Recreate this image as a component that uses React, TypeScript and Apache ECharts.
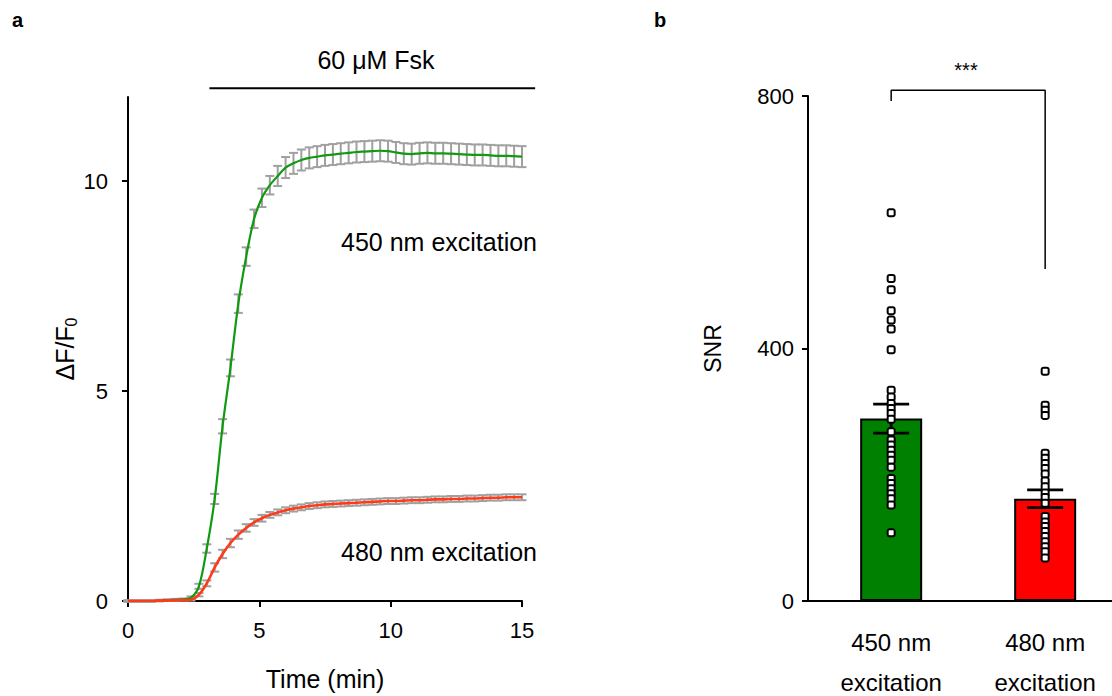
import React, { useEffect, useRef } from "react";
import * as echarts from "echarts";

// ---------- Panel a data ----------
const timeMin = [
  0, 0.3, 0.6, 0.9, 1.2, 1.5, 1.8, 2.1, 2.4, 2.7,
  3, 3.3, 3.6, 3.9, 4.2, 4.5, 4.8, 5.1, 5.4, 5.7, 6,
  6.3, 6.6, 6.9, 7.2, 7.5, 7.8, 8.1, 8.4, 8.7, 9,
  9.3, 9.6, 9.9, 10.2, 10.5, 10.8, 11.1, 11.4, 11.7, 12,
  12.3, 12.6, 12.9, 13.2, 13.5, 13.8, 14.1, 14.4, 14.7, 15,
];
const mean450 = [
  0, 0, 0, 0, 0.01, 0.02, 0.03, 0.04, 0.08, 0.35,
  1.25, 2.43, 4.16, 5.55, 7.08, 8.2, 9.1, 9.6, 9.9, 10.12, 10.32,
  10.42, 10.5, 10.55, 10.58, 10.61, 10.63, 10.65, 10.67, 10.69, 10.7,
  10.71, 10.72, 10.71, 10.68, 10.65, 10.64, 10.66, 10.67, 10.66, 10.66,
  10.65, 10.64, 10.63, 10.62, 10.62, 10.61, 10.6, 10.6, 10.59, 10.58,
];
const sem450 = [
  0.02, 0.02, 0.02, 0.02, 0.02, 0.02, 0.02, 0.02, 0.03, 0.06,
  0.1, 0.12, 0.17, 0.2, 0.22, 0.22, 0.22, 0.22, 0.22, 0.24, 0.25,
  0.25, 0.25, 0.25, 0.25, 0.25, 0.25, 0.25, 0.25, 0.25, 0.25,
  0.25, 0.25, 0.25, 0.25, 0.25, 0.25, 0.25, 0.25, 0.25, 0.25,
  0.25, 0.25, 0.25, 0.25, 0.25, 0.25, 0.25, 0.25, 0.25, 0.25,
];
const mean480 = [
  0, 0, 0, 0, 0.01, 0.01, 0.02, 0.02, 0.03, 0.15,
  0.42, 0.8, 1.12, 1.38, 1.58, 1.74, 1.87, 1.97, 2.05, 2.11, 2.16,
  2.2, 2.23, 2.26, 2.28, 2.3, 2.31, 2.32, 2.33, 2.34, 2.35,
  2.36, 2.37, 2.38, 2.38, 2.39, 2.4, 2.4, 2.41, 2.42, 2.42,
  2.43, 2.43, 2.44, 2.44, 2.45, 2.46, 2.46, 2.47, 2.47, 2.47,
];
const sem480 = [
  0.01, 0.01, 0.01, 0.01, 0.01, 0.01, 0.01, 0.01, 0.02, 0.04,
  0.07, 0.1, 0.1, 0.1, 0.1, 0.09, 0.08, 0.08, 0.07, 0.07, 0.07,
  0.07, 0.07, 0.07, 0.07, 0.07, 0.07, 0.07, 0.07, 0.07, 0.07,
  0.07, 0.07, 0.07, 0.07, 0.07, 0.07, 0.07, 0.07, 0.07, 0.07,
  0.07, 0.07, 0.07, 0.07, 0.07, 0.07, 0.07, 0.07, 0.07, 0.07,
];
const xTicksA = [0, 5, 10, 15];
const yTicksA = [0, 5, 10];
const fskStart = 3.1;
const fskEnd = 15.5;
const fskLevel = 12.21;

// ---------- Panel b data ----------
const categories = ["450 nm\nexcitation", "480 nm\nexcitation"];
const catPos = [1, 2];
const snrMean = [289, 162];
const snrSem = [23, 14];
const snr450 = [615, 511, 493, 460, 445, 431, 398, 334, 323, 313, 305, 297, 288, 268, 255, 247, 239, 231, 223, 212, 194, 186, 178, 170, 162, 152, 108];
const snr480 = [364, 310, 302, 294, 234, 226, 218, 210, 201, 190, 181, 171, 164, 155, 134, 125, 118, 110, 102, 94, 86, 78, 68];
const yTicksB = [0, 400, 800];
const bracketLeftBottom = 792;
const bracketTop = 809;
const bracketRightBottom = 526;

const FONT = "'Liberation Sans', Arial, Helvetica, sans-serif";
const GREEN_LINE = "#0f9a0f";
const RED_LINE = "#ff3b17";
const GREEN_BAR = "#008000";
const RED_BAR = "#ff0000";
const ERR_GRAY = "#a0a0a0";

export default function App() {
  const ref = useRef<HTMLDivElement>(null);

  useEffect(() => {
    if (!ref.current) return;
    const chart = echarts.init(ref.current, undefined, { renderer: "svg" });

    const errRender = (color: string, hw: number, lw: number) => (params: any, api: any) => {
      const x = api.value(0);
      const lo = api.coord([x, api.value(1)]);
      const hi = api.coord([x, api.value(2)]);
      const style = { stroke: color, lineWidth: lw, fill: "none" };
      return {
        type: "group",
        children: [
          { type: "line", shape: { x1: lo[0], y1: lo[1], x2: hi[0], y2: hi[1] }, style },
          { type: "line", shape: { x1: lo[0] - hw, y1: lo[1], x2: lo[0] + hw, y2: lo[1] }, style },
          { type: "line", shape: { x1: hi[0] - hw, y1: hi[1], x2: hi[0] + hw, y2: hi[1] }, style },
        ],
      };
    };

    const axisLineStyle = { color: "#000", width: 2 };
    const tickLabel = { color: "#000", fontSize: 22, fontFamily: FONT };

    const option: any = {
      animation: false,
      textStyle: { fontFamily: FONT },
      grid: [
        { left: 128, right: 590, top: 97, bottom: 95, outerBoundsMode: "none", containLabel: false },
        { left: 808, right: 0, top: 96, bottom: 95, outerBoundsMode: "none", containLabel: false },
      ],
      xAxis: [
        {
          type: "value",
          gridIndex: 0,
          min: 0,
          max: 15,
          interval: 5,
          splitLine: { show: false },
          axisLine: { lineStyle: axisLineStyle },
          axisTick: { show: true, length: 6, lineStyle: { color: "#000", width: 2 }, customValues: xTicksA },
          axisLabel: { ...tickLabel, margin: 18, customValues: xTicksA },
          name: "Time (min)",
          nameLocation: "middle",
          nameGap: 65,
          nameTextStyle: { color: "#000", fontSize: 25, fontFamily: FONT },
        },
        {
          type: "value",
          gridIndex: 1,
          min: 0.46,
          max: 2.434,
          splitLine: { show: false },
          axisLine: { lineStyle: axisLineStyle },
          axisTick: { show: false },
          axisLabel: {
            ...tickLabel,
            fontSize: 24,
            lineHeight: 40,
            margin: 21,
            customValues: catPos,
            formatter: (v: number) => {
              const i = catPos.indexOf(Math.round(v));
              return i >= 0 ? categories[i] : "";
            },
          },
        },
      ],
      yAxis: [
        {
          type: "value",
          gridIndex: 0,
          min: 0,
          max: 12,
          splitLine: { show: false },
          axisLine: { lineStyle: axisLineStyle },
          axisTick: { show: true, length: 6, lineStyle: { color: "#000", width: 2 }, customValues: yTicksA },
          axisLabel: { ...tickLabel, margin: 20, customValues: yTicksA },
          name: "{n|ΔF/F}{s|0}",
          nameLocation: "middle",
          nameGap: 32,
          nameTextStyle: {
            color: "#000",
            fontFamily: FONT,
            rich: {
              n: { fontSize: 25, lineHeight: 30, color: "#000", fontFamily: FONT },
              s: { fontSize: 16, lineHeight: 12, verticalAlign: "bottom", color: "#000", fontFamily: FONT },
            },
          },
        },
        {
          type: "value",
          gridIndex: 1,
          min: 0,
          max: 800,
          splitLine: { show: false },
          axisLine: { lineStyle: axisLineStyle },
          axisTick: { show: true, length: 6, lineStyle: { color: "#000", width: 2 }, customValues: yTicksB },
          axisLabel: { ...tickLabel, margin: 14, customValues: yTicksB },
          name: "SNR",
          nameLocation: "middle",
          nameGap: 84,
          nameTextStyle: { color: "#000", fontSize: 23, fontFamily: FONT },
        },
      ],
      series: [
        // panel a error bars
        {
          type: "custom",
          xAxisIndex: 0,
          yAxisIndex: 0,
          renderItem: errRender(ERR_GRAY, 4.5, 2),
          data: timeMin.map((t, i) => [t, mean450[i] - sem450[i], mean450[i] + sem450[i]]),
          encode: { x: 0, y: [1, 2] },
          z: 1,
          silent: true,
        },
        {
          type: "custom",
          xAxisIndex: 0,
          yAxisIndex: 0,
          renderItem: errRender(ERR_GRAY, 4.5, 2),
          data: timeMin.map((t, i) => [t, mean480[i] - sem480[i], mean480[i] + sem480[i]]),
          encode: { x: 0, y: [1, 2] },
          z: 1,
          silent: true,
        },
        {
          type: "line",
          xAxisIndex: 0,
          yAxisIndex: 0,
          data: timeMin.map((t, i) => [t, mean450[i]]),
          smooth: 0.3,
          showSymbol: false,
          symbol: "none",
          lineStyle: { color: GREEN_LINE, width: 2.2 },
          z: 3,
        },
        {
          type: "line",
          xAxisIndex: 0,
          yAxisIndex: 0,
          data: timeMin.map((t, i) => [t, mean480[i]]),
          smooth: 0.3,
          showSymbol: false,
          symbol: "none",
          lineStyle: { color: RED_LINE, width: 2.6 },
          z: 3,
        },
        // Fsk bar
        {
          type: "custom",
          xAxisIndex: 0,
          yAxisIndex: 0,
          clip: false,
          silent: true,
          data: [[fskStart, fskEnd, fskLevel]],
          encode: { x: [0, 1], y: 2 },
          renderItem: (params: any, api: any) => {
            const a = api.coord([api.value(0), api.value(2)]);
            const b = api.coord([api.value(1), api.value(2)]);
            return {
              type: "line",
              shape: { x1: a[0], y1: a[1], x2: b[0], y2: b[1] },
              style: { stroke: "#000", lineWidth: 2 },
            };
          },
          z: 3,
        },
        // panel b bars
        {
          type: "bar",
          xAxisIndex: 1,
          yAxisIndex: 1,
          data: catPos.map((p, i) => ({
            value: [p, snrMean[i]],
            itemStyle: { color: i === 0 ? GREEN_BAR : RED_BAR },
          })),
          barWidth: 62,
          itemStyle: { borderColor: "#000", borderWidth: 2 },
          z: 1,
        },
        {
          type: "custom",
          xAxisIndex: 1,
          yAxisIndex: 1,
          renderItem: errRender("#000", 18, 2.8),
          data: catPos.map((p, i) => [p, snrMean[i] - snrSem[i], snrMean[i] + snrSem[i]]),
          encode: { x: 0, y: [1, 2] },
          z: 2,
          silent: true,
        },
        {
          type: "scatter",
          xAxisIndex: 1,
          yAxisIndex: 1,
          data: [
            ...snr450.map((v) => [catPos[0], v]),
            ...snr480.map((v) => [catPos[1], v]),
          ],
          symbol: "roundRect",
          symbolSize: 7,
          itemStyle: { color: "#fff", borderColor: "#000", borderWidth: 2, opacity: 1 },
          z: 4,
        },
        // significance bracket
        {
          type: "line",
          xAxisIndex: 1,
          yAxisIndex: 1,
          data: [
            [catPos[0], bracketLeftBottom],
            [catPos[0], bracketTop],
            [catPos[1], bracketTop],
            [catPos[1], bracketRightBottom],
          ],
          symbol: "none",
          clip: false,
          lineStyle: { color: "#000", width: 1.5 },
          z: 5,
        },
      ],
      graphic: [
        { type: "text", left: 12, top: 10, style: { text: "a", fontSize: 20, fontWeight: "bold", fontFamily: FONT, fill: "#000" } },
        { type: "text", left: 654, top: 10, style: { text: "b", fontSize: 20, fontWeight: "bold", fontFamily: FONT, fill: "#000" } },
        { type: "text", x: 376, y: 60, style: { text: "60 μM Fsk", fontSize: 25, fontFamily: FONT, fill: "#000", align: "center", verticalAlign: "middle" } },
        { type: "text", x: 537, y: 242, style: { text: "450 nm excitation", fontSize: 25, fontFamily: FONT, fill: "#000", align: "right", verticalAlign: "middle" } },
        { type: "text", x: 537, y: 552, style: { text: "480 nm excitation", fontSize: 25, fontFamily: FONT, fill: "#000", align: "right", verticalAlign: "middle" } },
        { type: "text", x: 966, y: 70, style: { text: "***", fontSize: 20, fontFamily: FONT, fill: "#000", align: "center", verticalAlign: "middle" } },
      ],
    };

    chart.setOption(option);
    return () => chart.dispose();
  }, []);

  return (
    <div
      ref={ref}
      style={{ position: "fixed", left: 0, top: 0, width: 1112, height: 696, background: "#fff" }}
    />
  );
}
